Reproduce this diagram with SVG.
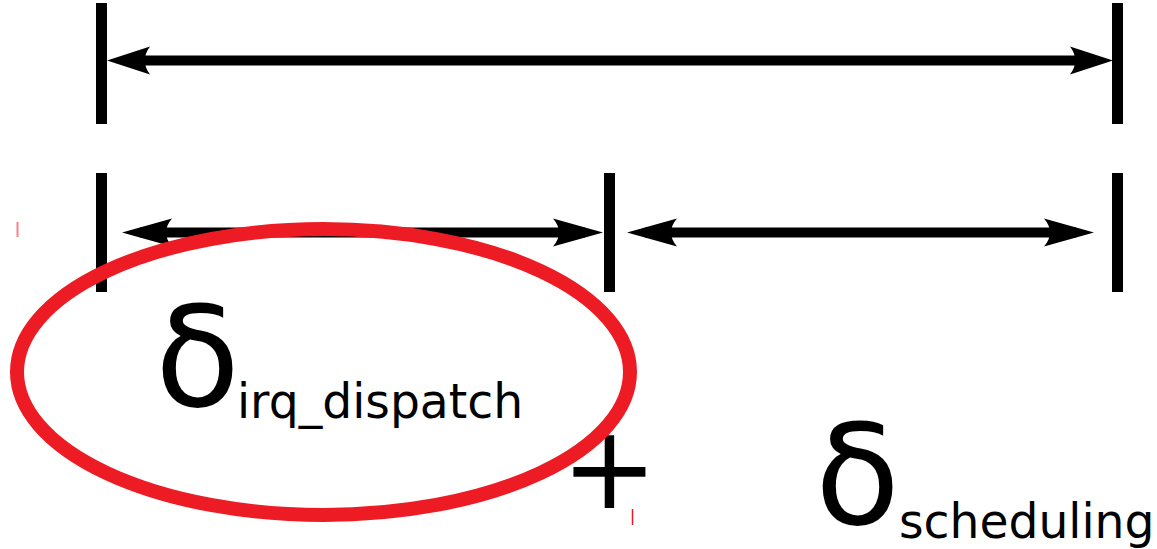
<svg xmlns="http://www.w3.org/2000/svg" width="1157" height="549" viewBox="0 0 1157 549">
  <style>
    .bar { stroke: #000; stroke-width: 11; fill: none; }
    .dim { stroke: #000; stroke-width: 10; fill: none; }
    .big { font-family: "DejaVu Sans", sans-serif; font-size: 139px; fill: #000; }
    .sub { font-family: "DejaVu Sans", sans-serif; font-size: 47.2px; fill: #000; }
  </style>
  <defs>
    <marker id="ahA" markerUnits="userSpaceOnUse" orient="auto-start-reverse" markerWidth="80" markerHeight="40" refX="0" refY="0" viewBox="-40 -20 80 40" overflow="visible">
      <path d="M18,0 L-25,-14 C-18,-5 -18,5 -25,14 Z" fill="#000"/>
    </marker>
    <marker id="ahB" markerUnits="userSpaceOnUse" orient="auto-start-reverse" markerWidth="80" markerHeight="40" refX="0" refY="0" viewBox="-40 -20 80 40" overflow="visible">
      <path d="M18,0 L-32,-14 C-24,-5 -24,5 -32,14 Z" fill="#000"/>
    </marker>
  </defs>

  <g id="ticks">
    <line class="bar" x1="101.5" y1="3" x2="101.5" y2="124"/>
    <line class="bar" x1="1117.5" y1="3" x2="1117.5" y2="124"/>
    <line class="bar" x1="101.5" y1="173" x2="101.5" y2="292"/>
    <line class="bar" x1="609.5" y1="173" x2="609.5" y2="292"/>
    <line class="bar" x1="1117.5" y1="173" x2="1117.5" y2="292"/>
  </g>

  <g id="connectors">
    <line class="dim" x1="125" y1="60.5" x2="1095" y2="60.5" marker-start="url(#ahA)" marker-end="url(#ahA)"/>
    <line class="dim" x1="140" y1="232.5" x2="585" y2="232.5" marker-start="url(#ahB)" marker-end="url(#ahB)"/>
    <line class="dim" x1="645" y1="232.5" x2="1076" y2="232.5" marker-start="url(#ahB)" marker-end="url(#ahB)"/>
  </g>

  <g id="label-irq">
    <text class="big" x="155" y="406">δ</text>
    <text class="sub" x="237" y="418">irq_dispatch</text>
  </g>

  <g id="plus">
    <text x="609.5" y="507.5" text-anchor="middle" font-family="DejaVu Sans, sans-serif" font-size="115" fill="#000">+</text>
  </g>

  <g id="label-sched">
    <text class="big" x="815" y="524">δ</text>
    <text class="sub" x="899" y="538">scheduling</text>
  </g>

  <g id="highlight">
    <ellipse cx="323.5" cy="372" rx="306.5" ry="143" fill="none" stroke="#ed1c24" stroke-width="14"/>
    <line x1="17.5" y1="222" x2="17.5" y2="237" stroke="#ed1c24" stroke-opacity="0.55" stroke-width="2"/>
    <line x1="632.5" y1="509" x2="632.5" y2="525" stroke="#ed1c24" stroke-width="1.5"/>
  </g>
</svg>
